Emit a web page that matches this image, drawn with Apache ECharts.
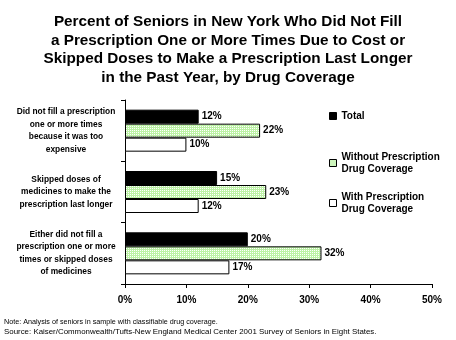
<!DOCTYPE html>
<html><head><meta charset="utf-8">
<script src="https://cdn.jsdelivr.net/npm/echarts@6/dist/echarts.min.js"></script>
<style>html,body{margin:0;padding:0;background:#fff}#c{width:456px;height:340px}</style>
</head><body><div id="c"></div>
<script>
var titleText = "Percent of Seniors in New York Who Did Not Fill\na Prescription One or More Times Due to Cost or\nSkipped Doses to Make a Prescription Last Longer\nin the Past Year, by Drug Coverage";
var categories = [
  "Did not fill a prescription\none or more times\nbecause it was too\nexpensive",
  "Skipped doses of\nmedicines to make the\nprescription last longer",
  "Either did not fill a\nprescription one or more\ntimes or skipped doses\nof medicines"
];
var seriesNames = ["Total", "Without Prescription\nDrug Coverage", "With Prescription\nDrug Coverage"];
var totalValues = [12, 15, 20];
var withoutValues = [22, 23, 32];
var withValues = [10, 12, 17];
var xTicks = [0, 10, 20, 30, 40, 50];
var noteLine = "Note: Analysis of seniors in sample with classifiable drug coverage.";
var sourceLine = "Source: Kaiser/Commonwealth/Tufts-New England Medical Center 2001 Survey of Seniors in Eight States.";

var pc = document.createElement('canvas');
pc.width = 2; pc.height = 2;
var g = pc.getContext('2d');
g.fillStyle = '#bdf2a6'; g.fillRect(0, 0, 2, 2);
g.fillStyle = '#ffffff'; g.fillRect(0, 0, 1, 1);
var greenPattern = { image: pc, repeat: 'repeat' };

var chart = echarts.init(document.getElementById('c'), null, { renderer: 'canvas' });
var lblStyle = { show: true, position: 'right', distance: 3, color: '#000', fontFamily: 'Liberation Sans', fontWeight: 'bold', fontSize: 10, formatter: '{c}%' };
var legendText = { color: '#000', fontFamily: 'Liberation Sans', fontWeight: 'bold', fontSize: 10, lineHeight: 12 };
function mkLegend(name, top) {
  return { data: [{ name: name, icon: 'rect' }], left: 329, top: top, orient: 'vertical', itemWidth: 7, itemHeight: 7, itemGap: 0, textStyle: legendText, selectedMode: false, padding: 0,
    itemStyle: { borderColor: '#000', borderWidth: 1 } };
}
chart.setOption({
  animation: false,
  title: {
    text: titleText, left: 'center', top: 8,
    textStyle: { fontFamily: 'Liberation Sans', fontWeight: 'bold', fontSize: 15.3, lineHeight: 18.5, color: '#000' }
  },
  legend: [mkLegend(seriesNames[0], 110), mkLegend(seriesNames[1], 151), mkLegend(seriesNames[2], 191)],
  grid: { left: 125, right: 24, top: 100, bottom: 56 },
  xAxis: {
    type: 'value', min: xTicks[0], max: xTicks[xTicks.length - 1], interval: 10,
    axisLine: { show: true, lineStyle: { color: '#000', width: 1 } },
    axisTick: { show: true, length: 4, lineStyle: { color: '#000' } },
    splitLine: { show: false },
    axisLabel: { formatter: '{value}%', color: '#000', fontFamily: 'Liberation Sans', fontWeight: 'bold', fontSize: 10, margin: 11 }
  },
  yAxis: {
    type: 'category', inverse: true, data: categories,
    axisLine: { show: true, lineStyle: { color: '#000', width: 1 } },
    axisTick: { show: true, length: 4, lineStyle: { color: '#000' } },
    axisLabel: { color: '#000', fontFamily: 'Liberation Sans', fontWeight: 'bold', fontSize: 8.4, lineHeight: 12.4, align: 'center', margin: 59 }
  },
  series: [
    { name: seriesNames[0], type: 'bar', data: totalValues, barWidth: 14, barGap: '0%', itemStyle: { color: '#000', borderColor: '#000', borderWidth: 1 }, label: lblStyle },
    { name: seriesNames[1], type: 'bar', data: withoutValues, barWidth: 14, barGap: '0%', itemStyle: { color: greenPattern, borderColor: '#000', borderWidth: 1 }, label: lblStyle },
    { name: seriesNames[2], type: 'bar', data: withValues, barWidth: 14, barGap: '0%', itemStyle: { color: '#fff', borderColor: '#000', borderWidth: 1 }, label: lblStyle }
  ],
  graphic: [
    { type: 'text', left: 4, top: 319, style: { text: noteLine, fill: '#000', font: '7.2px "Liberation Sans"' } },
    { type: 'text', left: 4, top: 328, style: { text: sourceLine, fill: '#000', font: '7.9px "Liberation Sans"' } }
  ]
});
</script></body></html>
